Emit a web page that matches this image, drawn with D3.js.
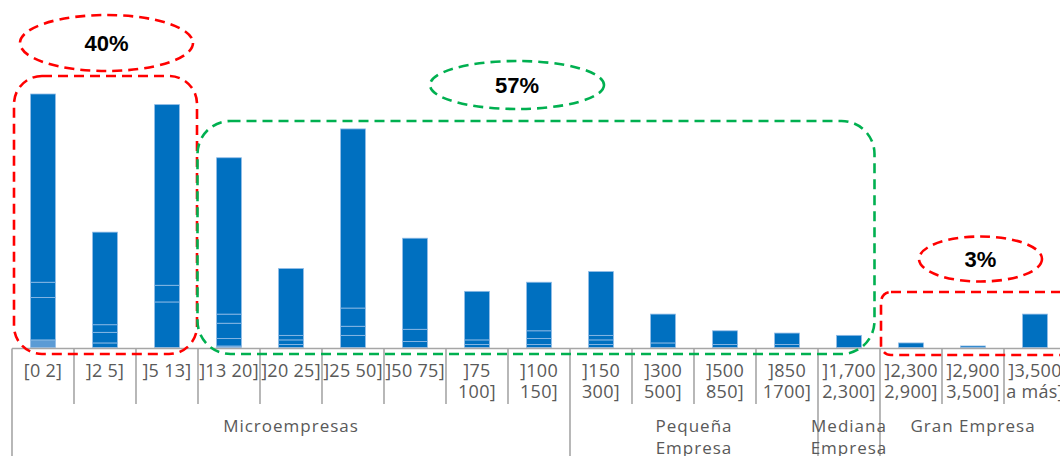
<!DOCTYPE html>
<html>
<head>
<meta charset="utf-8">
<script src="https://cdn.jsdelivr.net/npm/d3@7"></script>
<style>
  html, body { margin: 0; padding: 0; background: #ffffff; }
  svg { display: block; }
</style>
</head>
<body>
<svg id="chart" width="1060" height="456"></svg>
<script>
// Size classes by number of workers
const categories = [
  "[0 2]", "]2 5]", "]5 13]", "]13 20]", "]20 25]", "]25 50]", "]50 75]",
  "]75\n100]", "]100\n150]", "]150\n300]", "]300\n500]", "]500\n850]",
  "]850\n1700]", "]1,700\n2,300]", "]2,300\n2,900]", "]2,900\n3,500]", "]3,500\na más]"
];

// Share of companies (%) by stacked segment, bottom to top
const segmentBase = [0.5, 0, 0, 0.1, 0, 0, 0, 0, 0, 0, 0, 0, 0, 0, 0, 0, 0];
const segmentA    = [2.8, 0.3, 3.0, 0.5, 0.2, 0.8, 0.4, 0.2, 0.2, 0.2, 0.3, 0.2, 0.2, 0, 0, 0, 0];
const segmentB    = [1.0, 0.7, 1.1, 1.0, 0.3, 0.6, 0.8, 0.3, 0.4, 0.3, 0, 0, 0, 0, 0, 0, 0];
const segmentC    = [0, 0.5, 0, 0.6, 0.3, 1.2, 0, 0, 0.5, 0.3, 0, 0, 0, 0, 0, 0, 0];
const segmentTop  = [12.4, 6.1, 11.9, 10.3, 4.4, 11.8, 6.0, 3.2, 3.2, 4.2, 1.9, 0.9, 0.75, 0.8, 0.3, 0.1, 2.2];

// Company size groups on the second axis level
const groupNames = ["Microempresas", "Pequeña\nEmpresa", "Mediana\nEmpresa", "Gran Empresa"];
const groupSizes = [9, 4, 1, 3];

// Highlighted ranges [first, last] of categories
const highlightRanges = [[0, 2], [3, 13], [14, 16]];

const svg = d3.select("#chart");
const baseY = 347.5;

const x = d3.scaleBand()
  .domain(d3.range(categories.length))
  .range([12, 12 + 62 * categories.length])
  .paddingInner(0.6)
  .paddingOuter(0.3);

const layers = [segmentBase, segmentA, segmentB, segmentC, segmentTop];
const layerKeys = ["base", "a", "b", "c", "top"];
const rows = categories.map((c, i) => {
  const r = { i };
  layerKeys.forEach((k, j) => { r[k] = layers[j][i]; });
  return r;
});
const stacked = d3.stack().keys(layerKeys)(rows);
const totals = rows.map(r => d3.sum(layerKeys, k => r[k]));

const y = d3.scaleLinear()
  .domain([0, d3.max(totals)])
  .range([baseY, 94]);

const fills = { base: "#5b9bd5", a: "#0070c0", b: "#0070c0", c: "#0070c0", top: "#0070c0" };

// Bars
svg.append("g").selectAll("g")
  .data(stacked)
  .join("g")
  .attr("fill", d => fills[d.key])
  .selectAll("rect")
  .data(d => d.filter(s => s[1] - s[0] > 0))
  .join("rect")
  .attr("x", d => x(d.data.i))
  .attr("width", x.bandwidth())
  .attr("y", d => y(d[1]))
  .attr("height", d => y(d[0]) - y(d[1]))
  .attr("stroke", "#8fbbe6")
  .attr("stroke-width", 0.8);

// Axis: baseline, category ticks and group separators
const step = x.step();
const edge = i => 12 + step * i;
const axisColor = "#a6a6a6";
const axis = svg.append("g").attr("stroke", axisColor).attr("stroke-width", 1.6);
axis.append("line")
  .attr("x1", edge(0)).attr("x2", edge(categories.length))
  .attr("y1", 348.5).attr("y2", 348.5);

const groupEdges = [0];
groupSizes.forEach(s => groupEdges.push(groupEdges[groupEdges.length - 1] + s));

d3.range(categories.length + 1).forEach(i => {
  const isGroupEdge = groupEdges.includes(i);
  axis.append("line")
    .attr("x1", edge(i)).attr("x2", edge(i))
    .attr("y1", 348.5).attr("y2", isGroupEdge ? 456 : 404);
});

// Category labels
const tickFont = "'Open Sans', sans-serif";
const catG = svg.append("g")
  .attr("font-family", tickFont)
  .attr("font-size", 18)
  .attr("fill", "#595959")
  .attr("text-anchor", "middle")
  .style("letter-spacing", "0.3px");
categories.forEach((c, i) => {
  const t = catG.append("text").attr("x", x(i) + x.bandwidth() / 2);
  c.split("\n").forEach((line, k) => {
    t.append("tspan")
      .attr("x", x(i) + x.bandwidth() / 2)
      .attr("y", 377 + k * 21)
      .text(line);
  });
});

// Group labels
const grpG = svg.append("g")
  .attr("font-family", tickFont)
  .attr("font-size", 17)
  .attr("fill", "#595959")
  .attr("text-anchor", "middle")
  .style("letter-spacing", "1px");
groupNames.forEach((g, j) => {
  const cx = (edge(groupEdges[j]) + edge(groupEdges[j + 1])) / 2;
  const t = grpG.append("text");
  g.split("\n").forEach((line, k) => {
    t.append("tspan").attr("x", cx).attr("y", 432 + k * 22).text(line);
  });
});

// Highlight frames and share bubbles
const grand = d3.sum(totals);
const shares = highlightRanges.map(([a, b]) => Math.round(d3.sum(totals.slice(a, b + 1)) / grand * 100));

const frames = [
  { color: "#ff0000", rect: [14, 76, 183, 278, 28], ell: [106.5, 43, 86.5, 28] },
  { color: "#00b050", rect: [197.5, 121, 677, 233, 33], ell: [517, 85, 87, 24] },
  { color: "#ff0000", rect: [881, 292, 200, 63, 10], ell: [980.5, 259, 61.5, 22.5] }
];

const ann = svg.append("g");
frames.forEach((f, j) => {
  const [rx, ry, rw, rh, rr] = f.rect;
  ann.append("rect")
    .attr("x", rx).attr("y", ry).attr("width", rw).attr("height", rh)
    .attr("rx", rr).attr("ry", rr)
    .attr("fill", "none").attr("stroke", f.color)
    .attr("stroke-width", 2.6).attr("stroke-dasharray", "10,6");
  const [cx, cy, ex, ey] = f.ell;
  ann.append("ellipse")
    .attr("cx", cx).attr("cy", cy).attr("rx", ex).attr("ry", ey)
    .attr("fill", "none").attr("stroke", f.color)
    .attr("stroke-width", 2.6).attr("stroke-dasharray", "10,6");
  ann.append("text")
    .attr("x", cx).attr("y", cy + 8)
    .attr("text-anchor", "middle")
    .attr("font-family", "'Liberation Sans', Arial, sans-serif")
    .attr("font-weight", "bold")
    .attr("font-size", 22)
    .attr("fill", "#000000")
    .text(shares[j] + "%");
});
</script>
</body>
</html>
